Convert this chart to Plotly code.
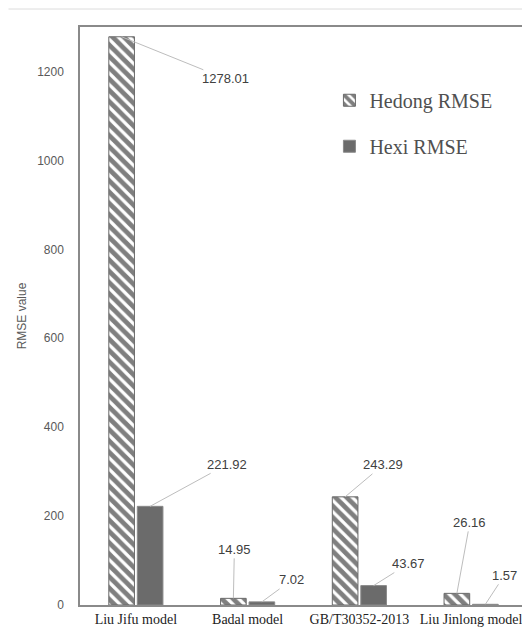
import plotly.graph_objects as go

categories = ["Liu Jifu model", "Badal model", "GB/T30352-2013", "Liu Jinlong model"]
hedong_rmse = [1278.01, 14.95, 243.29, 26.16]
hexi_rmse = [221.92, 7.02, 43.67, 1.57]
hedong_labels = ["1278.01", "14.95", "243.29", "26.16"]
hexi_labels = ["221.92", "7.02", "43.67", "1.57"]
y_ticks = [0, 200, 400, 600, 800, 1000, 1200]

# label offsets in pixels (text centre relative to bar top)
hedong_off = [(104, 42), (1, -49), (38, -32), (13, -71)]
hexi_off = [(77, -42), (30, -22), (35, -22), (19, -29)]

fig = go.Figure()
fig.add_trace(go.Bar(
    x=categories, y=hedong_rmse, name="Hedong RMSE",
    legendgroup="a",
    marker=dict(color="white", line=dict(color="#6a6a6a", width=1),
                pattern=dict(shape="\\", fgcolor="#000000", bgcolor="white",
                             size=8, solidity=0.6)),
))
fig.add_trace(go.Bar(
    x=categories, y=hexi_rmse, name="Hexi RMSE",
    legendgroup="b",
    marker=dict(color="#6b6b6b", line=dict(color="#8a8a8a", width=1)),
))

slot = 0.255
for i in range(len(categories)):
    for vals, labs, offs, sign in [(hedong_rmse, hedong_labels, hedong_off, -1),
                                   (hexi_rmse, hexi_labels, hexi_off, 1)]:
        fig.add_annotation(
            x=i + sign * slot / 2, y=vals[i], xref="x", yref="y",
            text=labs[i], showarrow=True, arrowhead=0, arrowwidth=1,
            arrowcolor="#bdbdbd", ax=offs[i][0], ay=offs[i][1],
            font=dict(family="Liberation Sans", size=13, color="#404040"),
            standoff=0,
        )

# the page body has an 8px default margin, so the figure is shrunk by 8px
fig.update_layout(
    width=522, height=622,
    margin=dict(l=71.5, r=2.5, t=19, b=25, autoexpand=False),
    paper_bgcolor="white", plot_bgcolor="white",
    barmode="group", bargap=0.49, bargroupgap=0.1,
    showlegend=True,
    legend=dict(x=0.558, y=0.907, xanchor="left", yanchor="top",
                font=dict(family="Liberation Serif", size=20, color="#505050"),
                tracegroupgap=17, itemwidth=30, bgcolor="rgba(0,0,0,0)"),
    shapes=[dict(type="line", xref="paper", yref="paper", x0=-0.16, x1=1.01,
                 y0=1 + 18 / 578, y1=1 + 18 / 578, line=dict(color="#dcdcdc", width=1))],
)
fig.update_xaxes(
    type="category", showline=True, linecolor="#8a8a8a", linewidth=1.5, mirror=True,
    tickfont=dict(family="Liberation Serif", size=14, color="#222222"),
    ticks="", showgrid=False, automargin=False,
)
fig.update_yaxes(
    range=[0, 1300], tickvals=y_ticks, showgrid=False, zeroline=False,
    showline=True, linecolor="#8a8a8a", linewidth=1.5, mirror=True,
    tickfont=dict(family="Liberation Sans", size=12, color="#595959"),
    ticklabelstandoff=12, automargin=False,
    title=dict(text="RMSE value", font=dict(family="Liberation Sans", size=12, color="#595959"),
               standoff=8),
)

fig.write_html("out.html")
